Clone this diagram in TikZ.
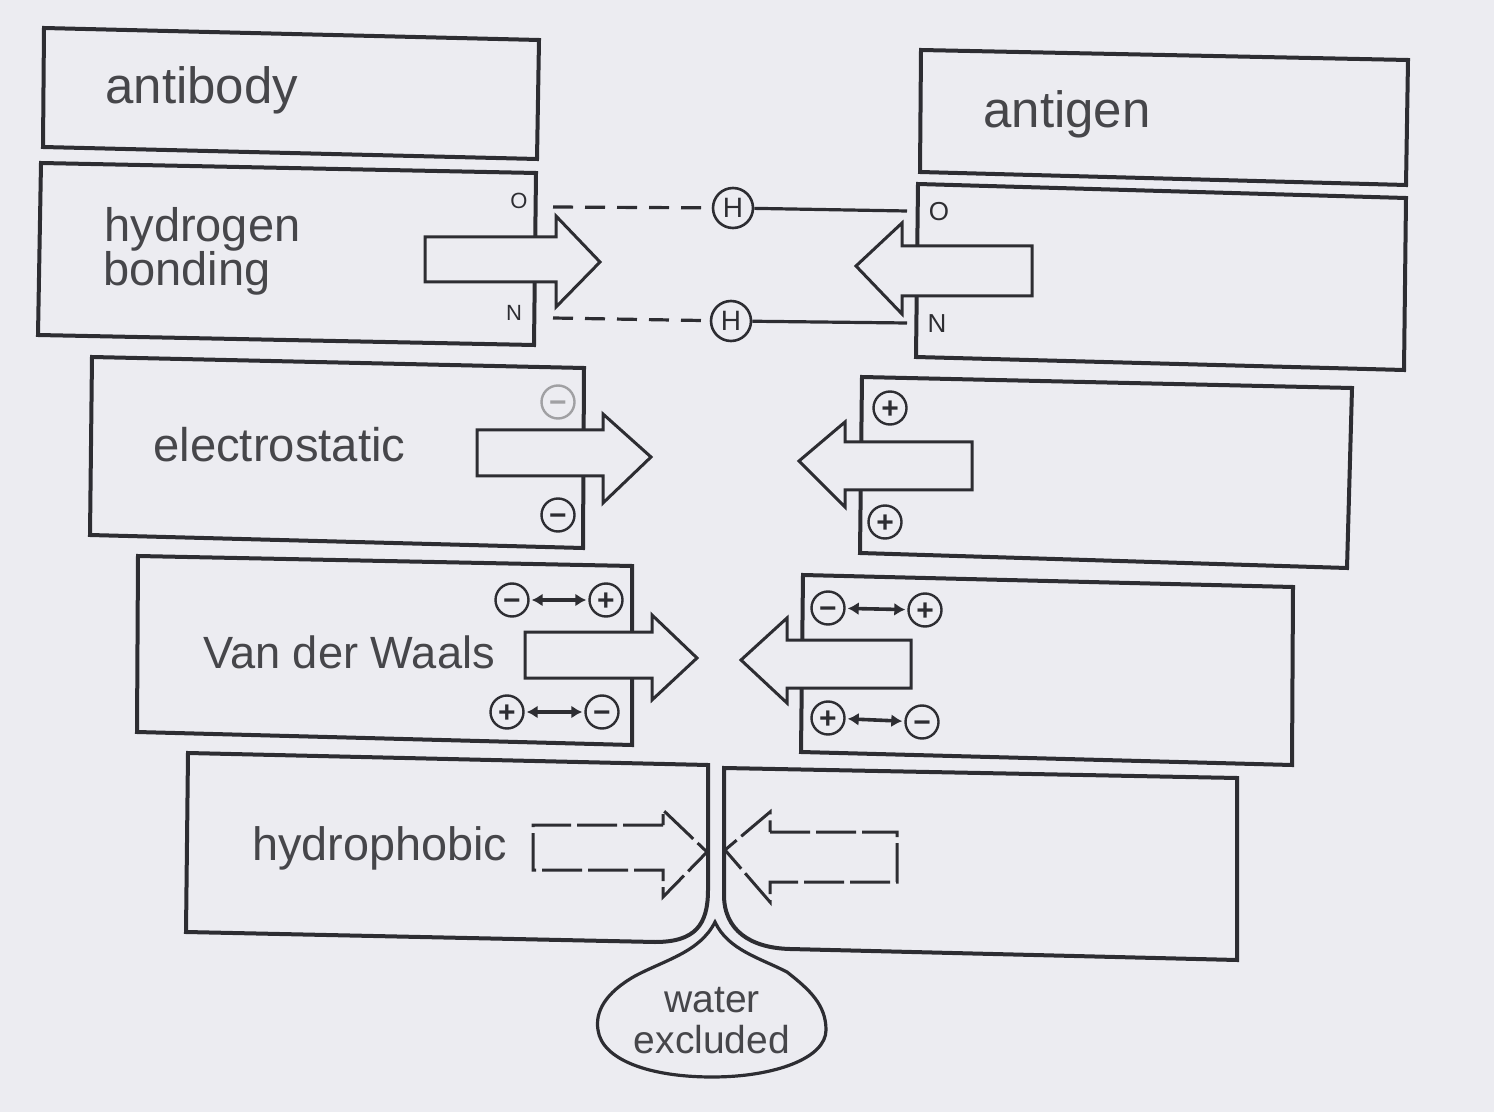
\documentclass[tikz,border=0pt]{standalone}
\usepackage{fontspec}
\setmainfont{Liberation Sans}
\usetikzlibrary{arrows.meta}
\definecolor{paper}{RGB}{236,236,241}
\definecolor{ink}{RGB}{45,45,50}
\definecolor{textink}{RGB}{70,70,74}

\begin{document}
\begin{tikzpicture}[x=0.5pt,y=-0.5pt,
  box/.style={draw=ink, line width=2pt, fill=paper, line join=miter},
  blockarrow/.style={draw=ink, line width=1.5pt, fill=paper, line join=miter},
  dasharrow/.style={blockarrow, dash pattern=on 20pt off 3pt},
  titletext/.style={text=textink, font=\fontsize{24}{28}\selectfont, inner sep=0pt, anchor=base west},
  droptext/.style={text=textink, font=\fontsize{19.5}{24}\selectfont, inner sep=0pt, anchor=base},
  atom/.style={text=ink, font=\fontsize{11}{12}\selectfont, inner sep=0pt},
  charge/.style={circle, draw=ink, line width=1.2pt, minimum size=16.5pt, inner sep=0pt,
                 text height=10.5pt, text depth=0pt,
                 text=ink, font=\fontsize{15}{15}\selectfont\bfseries},
  hatom/.style={circle, draw=ink, line width=1.3pt, minimum size=20pt, inner sep=0pt,
                text=ink, font=\fontsize{14}{14}\selectfont},
  hbond/.style={draw=ink, line width=1.6pt},
  vdw/.style={draw=ink, line width=1.8pt,
              {Latex[length=5.5pt,width=6.5pt]}-{Latex[length=5.5pt,width=6.5pt]},
              shorten <=1pt, shorten >=1pt}
]
% page
\fill[paper] (0,0) rectangle (1494,1112);
\useasboundingbox (0,0) rectangle (1494,1112);

% ---------------- headers ----------------
\draw[box] (44,28) -- (539,40) -- (537,159) -- (43,147) -- cycle;
\node[titletext, font=\fontsize{25.5}{28}\selectfont] (tAb) at (105,104) {antibody};
\draw[box] (921,50) -- (1408,60) -- (1406,185) -- (920,172) -- cycle;
\node[titletext, font=\fontsize{25.5}{28}\selectfont] (tAg) at (983,128) {antigen};

% ---------------- hydrogen bonding ----------------
\draw[box] (41,163) -- (536,173) -- (534,345) -- (38,335) -- cycle;
\draw[box] (918,184) -- (1406,198) -- (1404,370) -- (916,357) -- cycle;
\node[titletext, font=\fontsize{23.5}{28}\selectfont] (tHb1) at (104,242) {hydrogen};
\node[titletext, font=\fontsize{23.5}{28}\selectfont] (tHb2) at (103,286) {bonding};
\draw[blockarrow] (556,237) -- (425,237) -- (425,282) -- (556,282) -- (556,307)
  -- (600,262) -- (556,216) -- cycle;
\draw[blockarrow] (902,246) -- (1032,246) -- (1032,296) -- (902,296) -- (902,314)
  -- (856,266) -- (902,223) -- cycle;
\node[atom] (oL) at (519,201) {O};
\node[atom] (nL) at (514,313) {N};
\node[atom, font=\fontsize{13}{14}\selectfont] (oR) at (939,212) {O};
\node[atom, font=\fontsize{13}{14}\selectfont] (nR) at (937,324) {N};
\coordinate (hb1a) at (553,207);
\coordinate (hb1b) at (907,211);
\coordinate (hb2a) at (553,318);
\coordinate (hb2b) at (907,323);
\node[hatom] (H1) at (733,208) {H};
\node[hatom] (H2) at (731,321) {H};
\draw[hbond, dash pattern=on 10pt off 6pt] (hb1a) -- (H1);
\draw[hbond] (H1) -- (hb1b);
\draw[hbond, dash pattern=on 10pt off 6pt] (hb2a) -- (H2);
\draw[hbond] (H2) -- (hb2b);

% ---------------- electrostatic ----------------
\draw[box] (92,357) -- (584,368) -- (583,548) -- (90,535) -- cycle;
\draw[box] (862,377) -- (1352,388) -- (1347,568) -- (860,553) -- cycle;
\node[titletext, font=\fontsize{23.6}{28}\selectfont] (tEl) at (153,462) {electrostatic};
\draw[blockarrow] (603,430) -- (477,430) -- (477,476) -- (603,476) -- (603,503)
  -- (651,457) -- (603,414) -- cycle;
\draw[blockarrow] (845,442) -- (972,442) -- (972,490) -- (845,490) -- (845,507)
  -- (799,461) -- (845,422) -- cycle;
\node[charge, draw=ink!45, text=ink!45] (eL1) at (558,402) {−};
\node[charge] (eL2) at (558,515) {−};
\node[charge] (eR1) at (890,408) {+};
\node[charge] (eR2) at (885,522) {+};

% ---------------- Van der Waals ----------------
\draw[box] (138,556) -- (632,566) -- (632,745) -- (137,732) -- cycle;
\draw[box] (803,575) -- (1293,587) -- (1292,765) -- (801,752) -- cycle;
\node[titletext, font=\fontsize{22.6}{28}\selectfont] (tVw) at (203,668) {Van der Waals};
\draw[blockarrow] (652,632) -- (525,632) -- (525,678) -- (652,678) -- (652,700)
  -- (697,658) -- (652,615) -- cycle;
\draw[blockarrow] (787,640) -- (911,640) -- (911,688) -- (787,688) -- (787,703)
  -- (741,660) -- (787,618) -- cycle;
\node[charge] (vL1) at (512,600) {−};
\node[charge] (vL2) at (606,600) {+};
\node[charge] (vL3) at (507,712) {+};
\node[charge] (vL4) at (602,712) {−};
\node[charge] (vR1) at (828,608) {−};
\node[charge] (vR2) at (925,610) {+};
\node[charge] (vR3) at (828,718) {+};
\node[charge] (vR4) at (922,722) {−};
\draw[vdw] (vL1) -- (vL2);
\draw[vdw] (vL3) -- (vL4);
\draw[vdw] (vR1) -- (vR2);
\draw[vdw] (vR3) -- (vR4);

% ---------------- hydrophobic ----------------
\draw[box] (188,753) -- (708,765) -- (708,890)
  .. controls (708,925) and (695,942) .. (655,942) -- (186,932) -- cycle;
\draw[box] (724,768) -- (1237,778) -- (1237,960) -- (790,949)
  .. controls (750,948) and (724,930) .. (724,895) -- cycle;
\node[titletext, font=\fontsize{23.4}{28}\selectfont] (tHp) at (252,860) {hydrophobic};
\draw[dasharrow] (663,825) -- (533,825) -- (533,870) -- (663,870) -- (663,897)
  -- (707,852) -- (663,810) -- cycle;
\draw[dasharrow] (770,832) -- (897,832) -- (897,882) -- (770,882) -- (770,902)
  -- (725,850) -- (770,812) -- cycle;

% water drop
\draw[draw=ink, line width=1.6pt, fill=paper]
  (715,922) .. controls (700,952) and (665,960) .. (635,976)
  .. controls (605,993) and (595,1012) .. (598,1030)
  .. controls (602,1060) and (650,1077) .. (712,1077)
  .. controls (775,1077) and (826,1058) .. (826,1030)
  .. controls (826,1005) and (810,990) .. (787,972)
  .. controls (760,958) and (728,950) .. (715,922) -- cycle;
\node[droptext] (tW1) at (712,1012) {water};
\node[droptext] (tW2) at (712,1053) {excluded};
\end{tikzpicture}
\end{document}
